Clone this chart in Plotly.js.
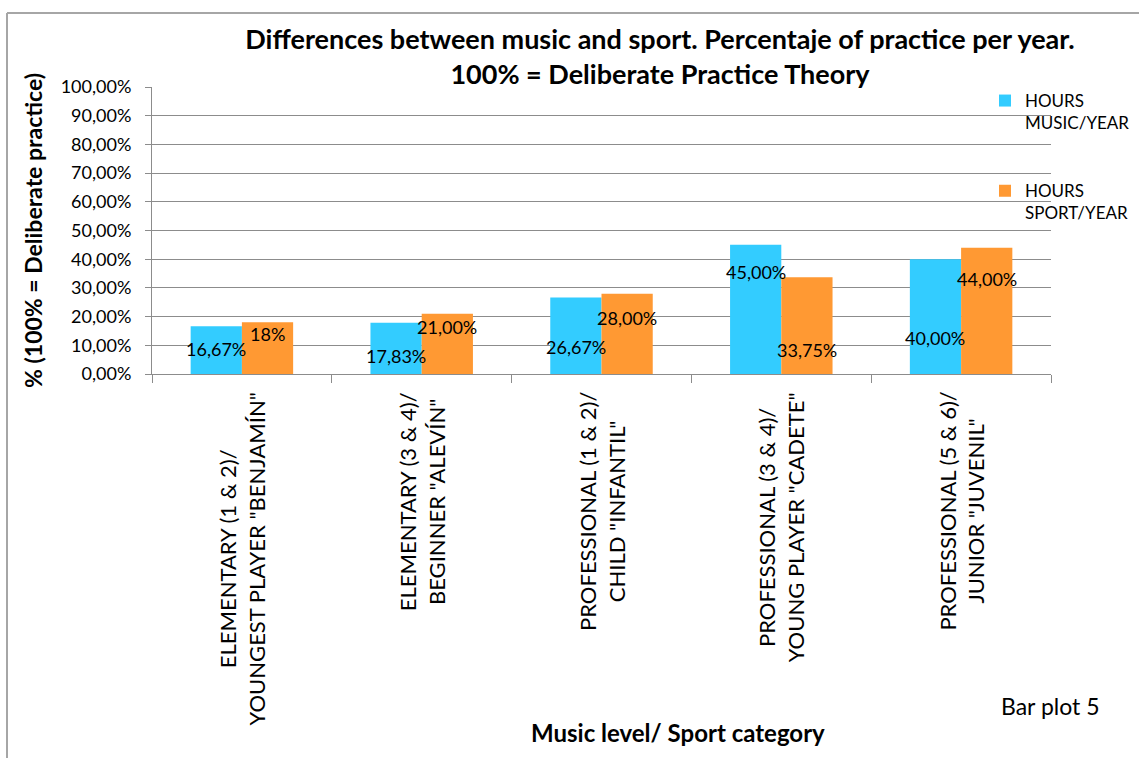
<!DOCTYPE html>
<html>
<head>
<meta charset="utf-8">
<script src="https://cdn.plot.ly/plotly-3.0.1.min.js"></script>
<style>html,body{margin:0;padding:0;background:#fff;overflow:hidden;}#chart{width:1139px;height:758px;}</style>
</head>
<body>
<div id="chart"></div>
<script>
// ---- data ----
const categories = [
  'ELEMENTARY (1 & 2)/ YOUNGEST PLAYER "BENJAMÍN"',
  'ELEMENTARY (3 & 4)/ BEGINNER "ALEVÍN"',
  'PROFESSIONAL (1 & 2)/ CHILD "INFANTIL"',
  'PROFESSIONAL (3 & 4)/ YOUNG PLAYER "CADETE"',
  'PROFESSIONAL (5 & 6)/ JUNIOR "JUVENIL"'
];
const musicValues = [16.67, 17.83, 26.67, 45.00, 40.00];   // percent
const sportValues = [18.00, 21.00, 28.00, 33.75, 44.00];   // percent
const musicLabels = ['16,67%', '17,83%', '26,67%', '45,00%', '40,00%'];
const sportLabels = ['18%', '21,00%', '28,00%', '33,75%', '44,00%'];
const seriesNames = ['HOURS<br>MUSIC/YEAR', 'HOURS<br>SPORT/YEAR'];
const yTickValues = [0, 10, 20, 30, 40, 50, 60, 70, 80, 90, 100];

// ---- layout constants (pixels) ----
const W = 1139, H = 758;
const M = {l: 152, r: 88, t: 87, b: 384, autoexpand: false};
const PW = W - M.l - M.r, PH = H - M.t - M.b;
const BARGAP = 0.43;
const FONT = 'Lato, "Open Sans", sans-serif';
const px2x = px => (px - M.l) / PW;
const py2y = py => (H - M.b - py) / PH;
// label drops below bar tops (as placed in the original chart)
const musicLabelDrop = [23, 33, 50, 27, 79];
const sportLabelDrop = [12, 13, 24, 73, 31];
const barShift = (PW / categories.length) * (1 - BARGAP) / 4;
const frac = arr => arr.map(v => v / 100);

const traces = [
  {type: 'bar', name: seriesNames[0], x: categories, y: frac(musicValues),
   marker: {color: '#33CCFF'}, legendgroup: 'm', hoverinfo: 'skip'},
  {type: 'bar', name: seriesNames[1], x: categories, y: frac(sportValues),
   marker: {color: '#FF9933'}, legendgroup: 's', hoverinfo: 'skip'}
];

const annotations = [];
categories.forEach((c, i) => {
  annotations.push({x: c, xref: 'x', y: musicValues[i] / 100, yref: 'y', xshift: -barShift,
    yshift: -musicLabelDrop[i], yanchor: 'middle', xanchor: 'center', showarrow: false,
    text: musicLabels[i], font: {family: FONT, size: 18, color: '#000'}});
  annotations.push({x: c, xref: 'x', y: sportValues[i] / 100, yref: 'y', xshift: barShift,
    yshift: -sportLabelDrop[i], yanchor: 'middle', xanchor: 'center', showarrow: false,
    text: sportLabels[i], font: {family: FONT, size: 18, color: '#000'}});
  annotations.push({x: c, xref: 'x', y: py2y(390), yref: 'paper', yanchor: 'top', xanchor: 'center',
    textangle: -90, align: 'center', showarrow: false,
    text: c.replace('/ ', '/<br>'), font: {family: FONT, size: 22, color: '#000'}});
});
annotations.push({x: px2x(678), xref: 'paper', y: py2y(733), yref: 'paper', xanchor: 'center', yanchor: 'middle',
  showarrow: false, text: 'Music level/ Sport category', font: {family: FONT, size: 24, color: '#000', weight: 'bold'}});
annotations.push({x: px2x(1050), xref: 'paper', y: py2y(706), yref: 'paper', xanchor: 'center', yanchor: 'middle',
  showarrow: false, text: 'Bar plot 5', font: {family: FONT, size: 23, color: '#000'}});

const frame = {color: '#a6a6a6', width: 2};
const shapes = [
  {type: 'line', xref: 'paper', yref: 'paper', x0: px2x(7), x1: px2x(W + 5), y0: py2y(13), y1: py2y(13), line: frame},
  {type: 'line', xref: 'paper', yref: 'paper', x0: px2x(7), x1: px2x(7), y0: py2y(13), y1: py2y(H + 5), line: frame}
];

const gridC = '#8c8c8c';
const layout = {
  width: W, height: H, margin: M, paper_bgcolor: '#fff', plot_bgcolor: '#fff',
  separators: ',.',
  font: {family: FONT, color: '#000'},
  title: {text: 'Differences between music and sport. Percentaje of practice per year.<br>100% = Deliberate Practice Theory',
    font: {family: FONT, size: 27, color: '#000', weight: 'bold'},
    xref: 'container', x: 660 / W, xanchor: 'center', yref: 'container', y: 1 - 49 / H, yanchor: 'middle'},
  barmode: 'group', bargap: BARGAP, bargroupgap: 0,
  xaxis: {type: 'category', showticklabels: false, tickson: 'boundaries', ticks: 'outside', ticklen: 8,
    tickcolor: gridC, showline: true, linecolor: gridC, linewidth: 1, showgrid: false, fixedrange: true},
  yaxis: {range: [0, 1], tickvals: frac(yTickValues), tickformat: '.2%', showgrid: true, gridcolor: gridC,
    gridwidth: 1, showline: true, linecolor: gridC, linewidth: 1, ticks: 'outside', ticklen: 6, tickcolor: gridC,
    zeroline: false, ticklabelstandoff: 10, tickfont: {family: FONT, size: 18, color: '#000'},
    title: {text: '% (100% = Deliberate practice)', font: {family: FONT, size: 23, color: '#000', weight: 'bold'}, standoff: 11},
    fixedrange: true},
  legend: {xref: 'container', x: 985 / W, xanchor: 'left', yref: 'container', y: 1 - 83 / H, yanchor: 'top',
    bgcolor: 'rgba(0,0,0,0)', font: {family: FONT, size: 17, color: '#000'}, valign: 'top',
    traceorder: 'grouped', tracegroupgap: 43},
  showlegend: true,
  annotations: annotations,
  shapes: shapes
};

Plotly.newPlot('chart', traces, layout, {displayModeBar: false, staticPlot: true});
</script>
</body>
</html>
